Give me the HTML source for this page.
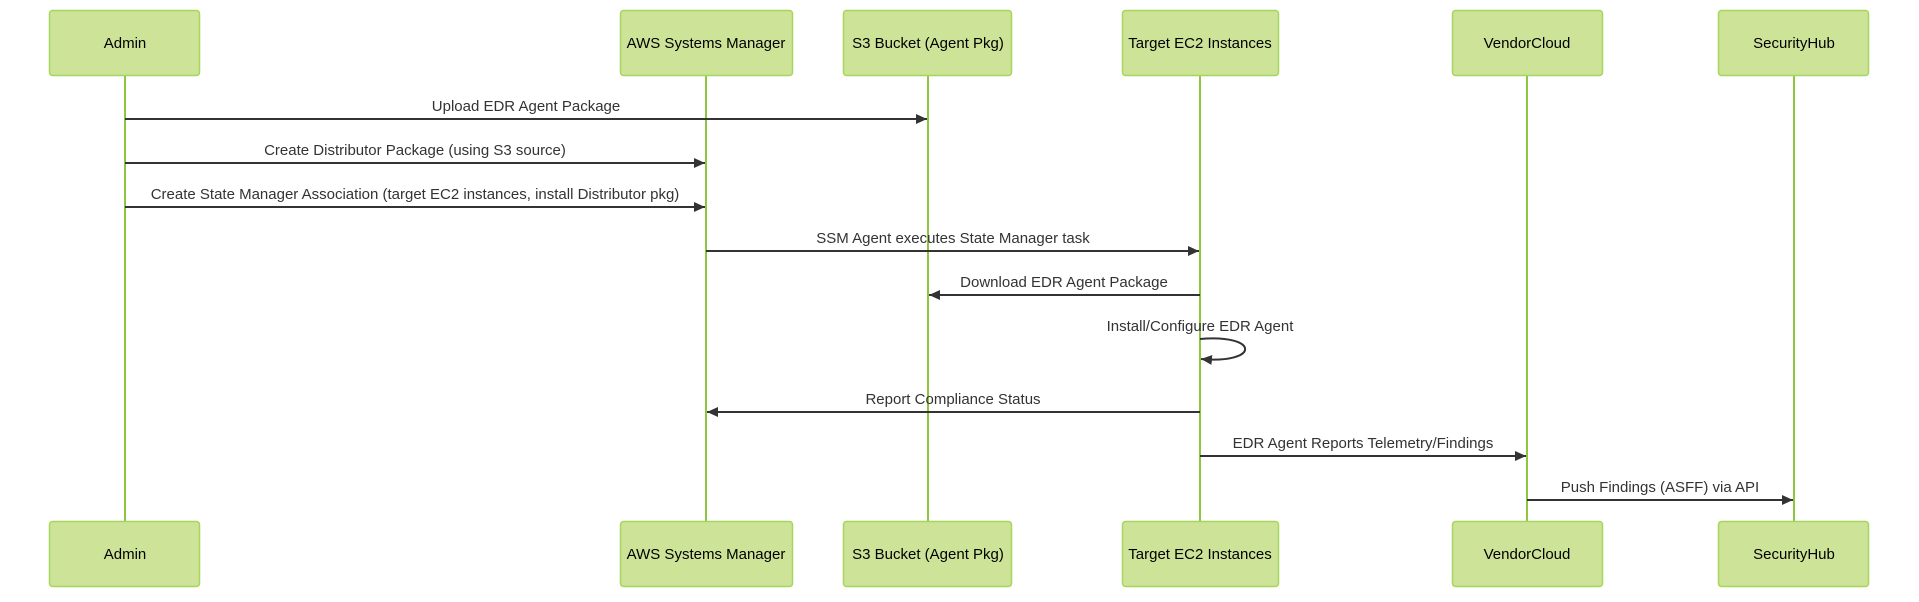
<!DOCTYPE html>
<html><head><meta charset="utf-8"><style>
html,body{margin:0;padding:0;background:#fff;}
svg text{font-family:"Liberation Sans",sans-serif;font-size:15px;fill:#333;}
.a{font-size:15px;fill:#000;}
</style></head><body>
<svg width="1919" height="597" viewBox="0 0 1919 597" xmlns="http://www.w3.org/2000/svg">
<defs><marker id="ah" markerWidth="12" markerHeight="12" refX="11" refY="6" orient="auto" markerUnits="userSpaceOnUse"><path d="M0,1 L11,6 L0,11 z" fill="#333"/></marker></defs>
<g stroke="#8ec63f" stroke-width="2">
<line x1="125" y1="75" x2="125" y2="521"/>
<line x1="706" y1="75" x2="706" y2="521"/>
<line x1="928" y1="75" x2="928" y2="521"/>
<line x1="1200" y1="75" x2="1200" y2="521"/>
<line x1="1527" y1="75" x2="1527" y2="521"/>
<line x1="1794" y1="75" x2="1794" y2="521"/>
</g>
<g fill="#cde498" stroke="#a6d65b" stroke-width="1.5">
<rect x="49.5" y="10.5" width="150" height="65" rx="3"/>
<rect x="620.5" y="10.5" width="172" height="65" rx="3"/>
<rect x="843.5" y="10.5" width="168" height="65" rx="3"/>
<rect x="1122.5" y="10.5" width="156" height="65" rx="3"/>
<rect x="1452.5" y="10.5" width="150" height="65" rx="3"/>
<rect x="1718.5" y="10.5" width="150" height="65" rx="3"/>
<rect x="49.5" y="521.5" width="150" height="65" rx="3"/>
<rect x="620.5" y="521.5" width="172" height="65" rx="3"/>
<rect x="843.5" y="521.5" width="168" height="65" rx="3"/>
<rect x="1122.5" y="521.5" width="156" height="65" rx="3"/>
<rect x="1452.5" y="521.5" width="150" height="65" rx="3"/>
<rect x="1718.5" y="521.5" width="150" height="65" rx="3"/>
</g>
<g text-anchor="middle">
<text class="a" x="125" y="48">Admin</text>
<text class="a" x="706" y="48">AWS Systems Manager</text>
<text class="a" x="928" y="48">S3 Bucket (Agent Pkg)</text>
<text class="a" x="1200" y="48">Target EC2 Instances</text>
<text class="a" x="1527" y="48">VendorCloud</text>
<text class="a" x="1794" y="48">SecurityHub</text>
<text class="a" x="125" y="559">Admin</text>
<text class="a" x="706" y="559">AWS Systems Manager</text>
<text class="a" x="928" y="559">S3 Bucket (Agent Pkg)</text>
<text class="a" x="1200" y="559">Target EC2 Instances</text>
<text class="a" x="1527" y="559">VendorCloud</text>
<text class="a" x="1794" y="559">SecurityHub</text>
</g>
<g stroke="#333" stroke-width="2" fill="none" marker-end="url(#ah)">
<line x1="125" y1="119" x2="927" y2="119"/>
<line x1="125" y1="163" x2="705" y2="163"/>
<line x1="125" y1="207" x2="705" y2="207"/>
<line x1="706" y1="251" x2="1199" y2="251"/>
<line x1="1200" y1="295" x2="929" y2="295"/>
<path d="M1200,339 C1260,334 1260,364 1201,359"/>
<line x1="1200" y1="412" x2="707" y2="412"/>
<line x1="1200" y1="456" x2="1526" y2="456"/>
<line x1="1527" y1="500" x2="1793" y2="500"/>
</g>
<g text-anchor="middle">
<text x="526" y="111">Upload EDR Agent Package</text>
<text x="415" y="155">Create Distributor Package (using S3 source)</text>
<text x="415" y="199">Create State Manager Association (target EC2 instances, install Distributor pkg)</text>
<text x="953" y="243">SSM Agent executes State Manager task</text>
<text x="1064" y="287">Download EDR Agent Package</text>
<text x="1200" y="331">Install/Configure EDR Agent</text>
<text x="953" y="404">Report Compliance Status</text>
<text x="1363" y="448">EDR Agent Reports Telemetry/Findings</text>
<text x="1660" y="492">Push Findings (ASFF) via API</text>
</g>
</svg>
</body></html>
